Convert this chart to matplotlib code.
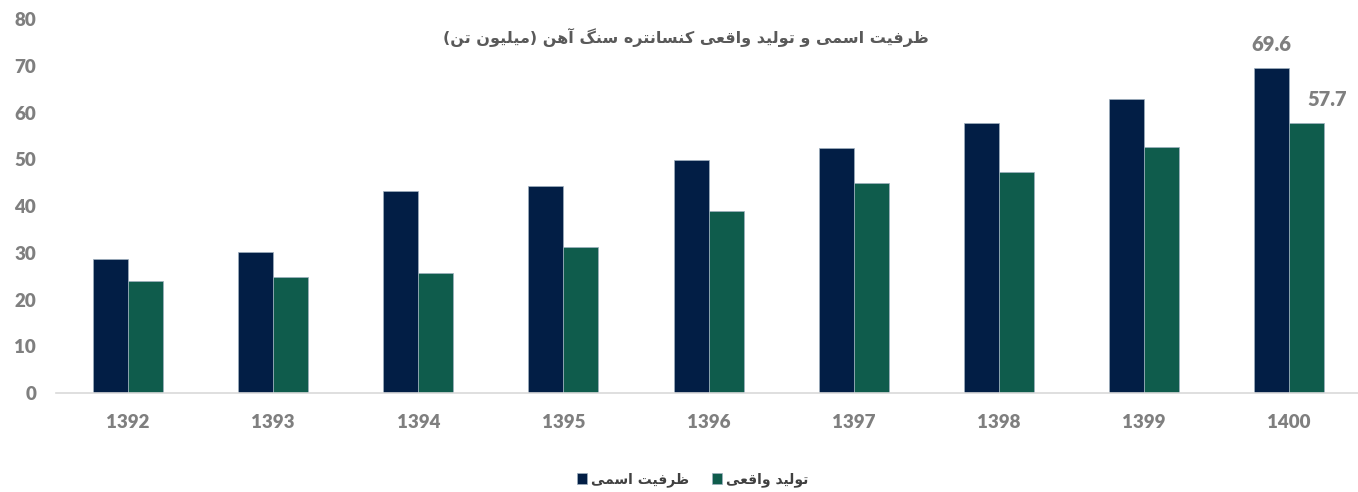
import matplotlib
matplotlib.use("Agg")
import matplotlib.pyplot as plt
import numpy as np

years = ["1392", "1393", "1394", "1395", "1396", "1397", "1398", "1399", "1400"]
capacity = [28.7, 30.2, 43.2, 44.3, 49.8, 52.4, 57.8, 62.9, 69.6]
production = [24.0, 24.8, 25.7, 31.2, 38.9, 44.9, 47.3, 52.6, 57.7]

title_fa = "ظرفیت اسمی و تولید واقعی کنسانتره سنگ آهن (میلیون تن)"
label_capacity = "ظرفیت اسمی"
label_production = "تولید واقعی"

navy = "#021E45"
green = "#0F5C4C"
gray = "#7F7F7F"

# presentation forms: isolated, final, initial, medial
forms = {
    "ا": ["\uFE8D", "\uFE8E"], "آ": ["\uFE81", "\uFE82"], "د": ["\uFEA9", "\uFEAA"],
    "ر": ["\uFEAD", "\uFEAE"], "و": ["\uFEED", "\uFEEE"],
    "ت": ["\uFE95", "\uFE96", "\uFE97", "\uFE98"], "س": ["\uFEB1", "\uFEB2", "\uFEB3", "\uFEB4"],
    "ظ": ["\uFEC5", "\uFEC6", "\uFEC7", "\uFEC8"], "ع": ["\uFEC9", "\uFECA", "\uFECB", "\uFECC"],
    "ف": ["\uFED1", "\uFED2", "\uFED3", "\uFED4"], "ق": ["\uFED5", "\uFED6", "\uFED7", "\uFED8"],
    "ل": ["\uFEDD", "\uFEDE", "\uFEDF", "\uFEE0"], "م": ["\uFEE1", "\uFEE2", "\uFEE3", "\uFEE4"],
    "ن": ["\uFEE5", "\uFEE6", "\uFEE7", "\uFEE8"], "ه": ["\uFEE9", "\uFEEA", "\uFEEB", "\uFEEC"],
    "ی": ["\uFBFC", "\uFBFD", "\uFBFE", "\uFBFF"], "ک": ["\uFB8E", "\uFB8F", "\uFB90", "\uFB91"],
    "گ": ["\uFB92", "\uFB93", "\uFB94", "\uFB95"],
}


def shape(text):
    out = []
    for i, c in enumerate(text):
        if c not in forms:
            out.append(c)
            continue
        prev = text[i - 1] if i > 0 else ""
        nxt = text[i + 1] if i < len(text) - 1 else ""
        join_prev = prev in forms and len(forms[prev]) == 4
        join_next = len(forms[c]) == 4 and nxt in forms
        f = forms[c]
        if join_prev and join_next:
            out.append(f[3])
        elif join_prev:
            out.append(f[1])
        elif join_next:
            out.append(f[2])
        else:
            out.append(f[0])
    vis = "".join(reversed(out))
    return vis.translate(str.maketrans("()", ")("))


plt.rcParams["font.family"] = ["Lato", "DejaVu Sans"]
plt.rcParams["font.weight"] = "heavy"

fig = plt.figure(figsize=(13.58, 4.92), dpi=100)
ax = fig.add_axes([0.0409, 0.2012, 0.9617, 0.760])

x = np.arange(len(years))
w = 0.241
ax.bar(x - w / 2, capacity, w, color=navy, edgecolor="#9FB0BF", linewidth=0.5, label=shape(label_capacity))
ax.bar(x + w / 2, production, w, color=green, edgecolor="#9FB0BF", linewidth=0.5, label=shape(label_production))

ax.set_xlim(-0.5, len(years) - 0.5)
ax.set_ylim(0, 80)
ax.set_yticks(range(0, 81, 10))
ax.set_xticks(x)
ax.set_xticklabels(years)
ax.tick_params(axis="both", length=0, labelsize=13.5, labelcolor=gray)
ax.tick_params(axis="x", pad=15)
ax.tick_params(axis="y", pad=14)
for s in ["top", "right", "left"]:
    ax.spines[s].set_visible(False)
ax.spines["bottom"].set_color("#D9D9D9")
ax.spines["bottom"].set_linewidth(1.2)

ax.annotate(f"{capacity[-1]}", (x[-1] - w / 2, capacity[-1]), xytext=(0, 10),
            textcoords="offset points", ha="center", va="bottom", fontsize=14.5,
            color=gray, annotation_clip=False)
ax.annotate(f"{production[-1]}", (x[-1] + w / 2, production[-1]), xytext=(15, 10),
            textcoords="offset points", ha="center", va="bottom", fontsize=14.5,
            color=gray, annotation_clip=False)

fig.text(0.505, 0.923, shape(title_fa), ha="center", va="center", fontsize=11.5,
         color="#595959", fontweight="bold", family="DejaVu Sans")

leg = fig.legend(loc="center", bbox_to_anchor=(0.51, 0.025), ncol=2, frameon=False,
                 handlelength=0.75, handleheight=0.75, handletextpad=0.3, columnspacing=1.6,
                 prop={"family": "DejaVu Sans", "size": 10, "weight": "bold"})
for t in leg.get_texts():
    t.set_color("#404040")

fig.savefig("out.png", dpi=100)
